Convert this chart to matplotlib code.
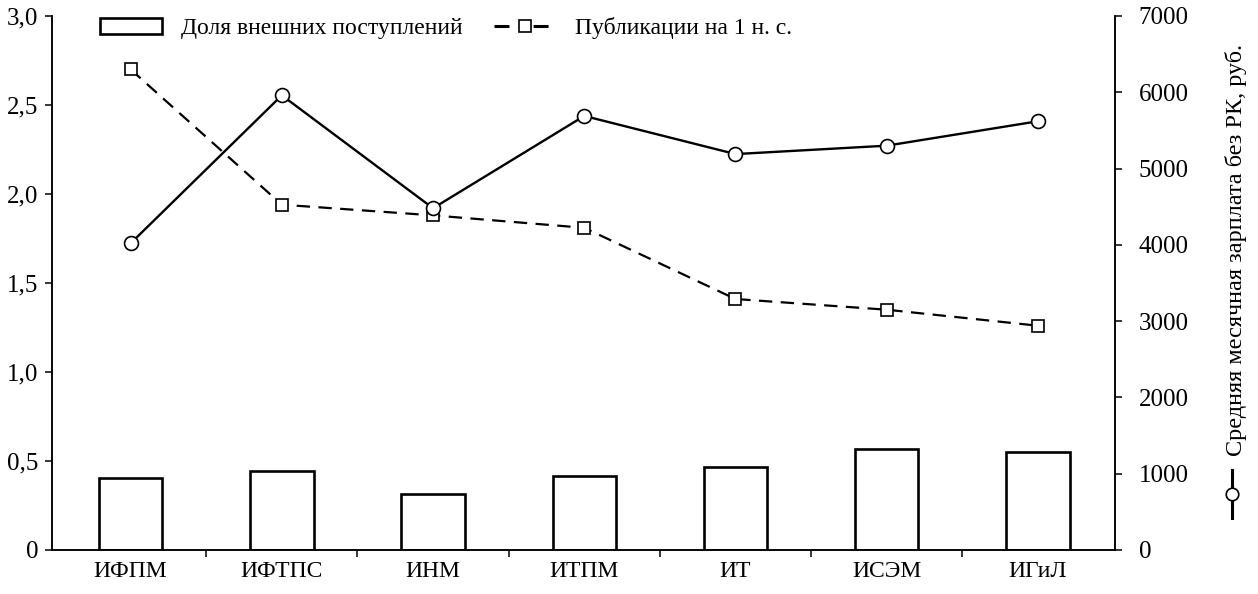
import matplotlib
matplotlib.use("Agg")
import matplotlib.pyplot as plt
from matplotlib.patches import Patch
from matplotlib.lines import Line2D
import numpy as np

plt.rcParams['font.family'] = ['Liberation Serif', 'DejaVu Serif']
plt.rcParams['font.size'] = 17

# ---------------- data ----------------
institutes = ["ИФПМ", "ИФТПС", "ИНМ", "ИТПМ", "ИТ", "ИСЭМ", "ИГиЛ"]
ext_share = [0.405, 0.445, 0.315, 0.417, 0.467, 0.569, 0.552]
pubs_per_researcher = [2.70, 1.94, 1.88, 1.81, 1.41, 1.35, 1.26]
salary = [4020, 5960, 4480, 5690, 5190, 5300, 5620]

left_ticks = [0, 0.5, 1.0, 1.5, 2.0, 2.5, 3.0]
left_labels = ["0", "0,5", "1,0", "1,5", "2,0", "2,5", "3,0"]
right_ticks = [0, 1000, 2000, 3000, 4000, 5000, 6000, 7000]

x = np.arange(len(institutes))

fig = plt.figure(figsize=(12.58, 5.94), dpi=100)
ax = fig.add_axes([52 / 1258, 1 - 550 / 594, (1115 - 52) / 1258, (550 - 16) / 594])
ax2 = ax.twinx()

# bars - share of external income
ax.bar(x, ext_share, width=0.42, facecolor="white", edgecolor="black", linewidth=1.9, zorder=2)

# dashed line - publications
ax.plot(x, pubs_per_researcher, color="black", linestyle=(0, (6, 3.8)), linewidth=1.6,
        marker="s", markersize=9, markerfacecolor="white", markeredgecolor="black",
        markeredgewidth=1.2, zorder=3)

# solid line - salary
ax2.plot(x, salary, color="black", linewidth=1.7, marker="o", markersize=10,
         markerfacecolor="white", markeredgecolor="black", markeredgewidth=1.2, zorder=3)

ax.set_xlim(-0.52, 6.51)
ax.set_ylim(0, 3.0)
ax2.set_ylim(0, 7000)

ax.set_yticks(left_ticks)
ax.set_yticklabels(left_labels, fontsize=18)
ax2.set_yticks(right_ticks)
ax2.set_yticklabels([str(t) for t in right_ticks], fontsize=18)

# ticks between categories, labels under categories
ax.set_xticks(x[:-1] + 0.5)
ax.set_xticklabels([])
ax.set_xticks(x, minor=True)
ax.set_xticklabels(institutes, minor=True)
ax.tick_params(axis="x", which="minor", length=0, pad=8)
ax.tick_params(axis="x", which="major", length=5, width=1.1, direction="out")
ax.tick_params(axis="y", length=5, width=1.1, pad=5)
ax2.tick_params(axis="y", length=5, width=1.1, pad=12)

for a in (ax, ax2):
    a.spines["top"].set_visible(False)
    for s in ("left", "right", "bottom"):
        a.spines[s].set_linewidth(1.1)

# legend on top
handles = [
    Patch(facecolor="white", edgecolor="black", linewidth=1.9),
    Line2D([], [], color="black", linestyle=(0, (4.9, 7.9)), linewidth=2.2, marker="s",
           markersize=9, markerfacecolor="white", markeredgecolor="black", markeredgewidth=1.2),
]
ax.legend(handles, ["Доля внешних поступлений", "Публикации на 1 н. с."], ncol=2,
          loc="center left", bbox_to_anchor=(0.045, 0.977), frameon=False,
          borderpad=0, borderaxespad=0, handlelength=2.65, handleheight=0.65,
          handletextpad=0.8, columnspacing=1.3, fontsize=17)

# right side label with its own line symbol
fig.text(1236 / 1258, 1 - 250 / 594, "Средняя месячная зарплата без РК, руб.",
         rotation=90, ha="center", va="center", fontsize=17.5)
fig.add_artist(Line2D([1232 / 1258, 1232 / 1258], [1 - 470 / 594, 1 - 518 / 594],
                      transform=fig.transFigure, color="black", linewidth=2.2))
fig.add_artist(Line2D([1232 / 1258], [1 - 494 / 594], transform=fig.transFigure,
                      marker="o", markersize=9, markerfacecolor="white",
                      markeredgecolor="black", markeredgewidth=1.2, linestyle="none"))

fig.savefig("out.png", dpi=100)
